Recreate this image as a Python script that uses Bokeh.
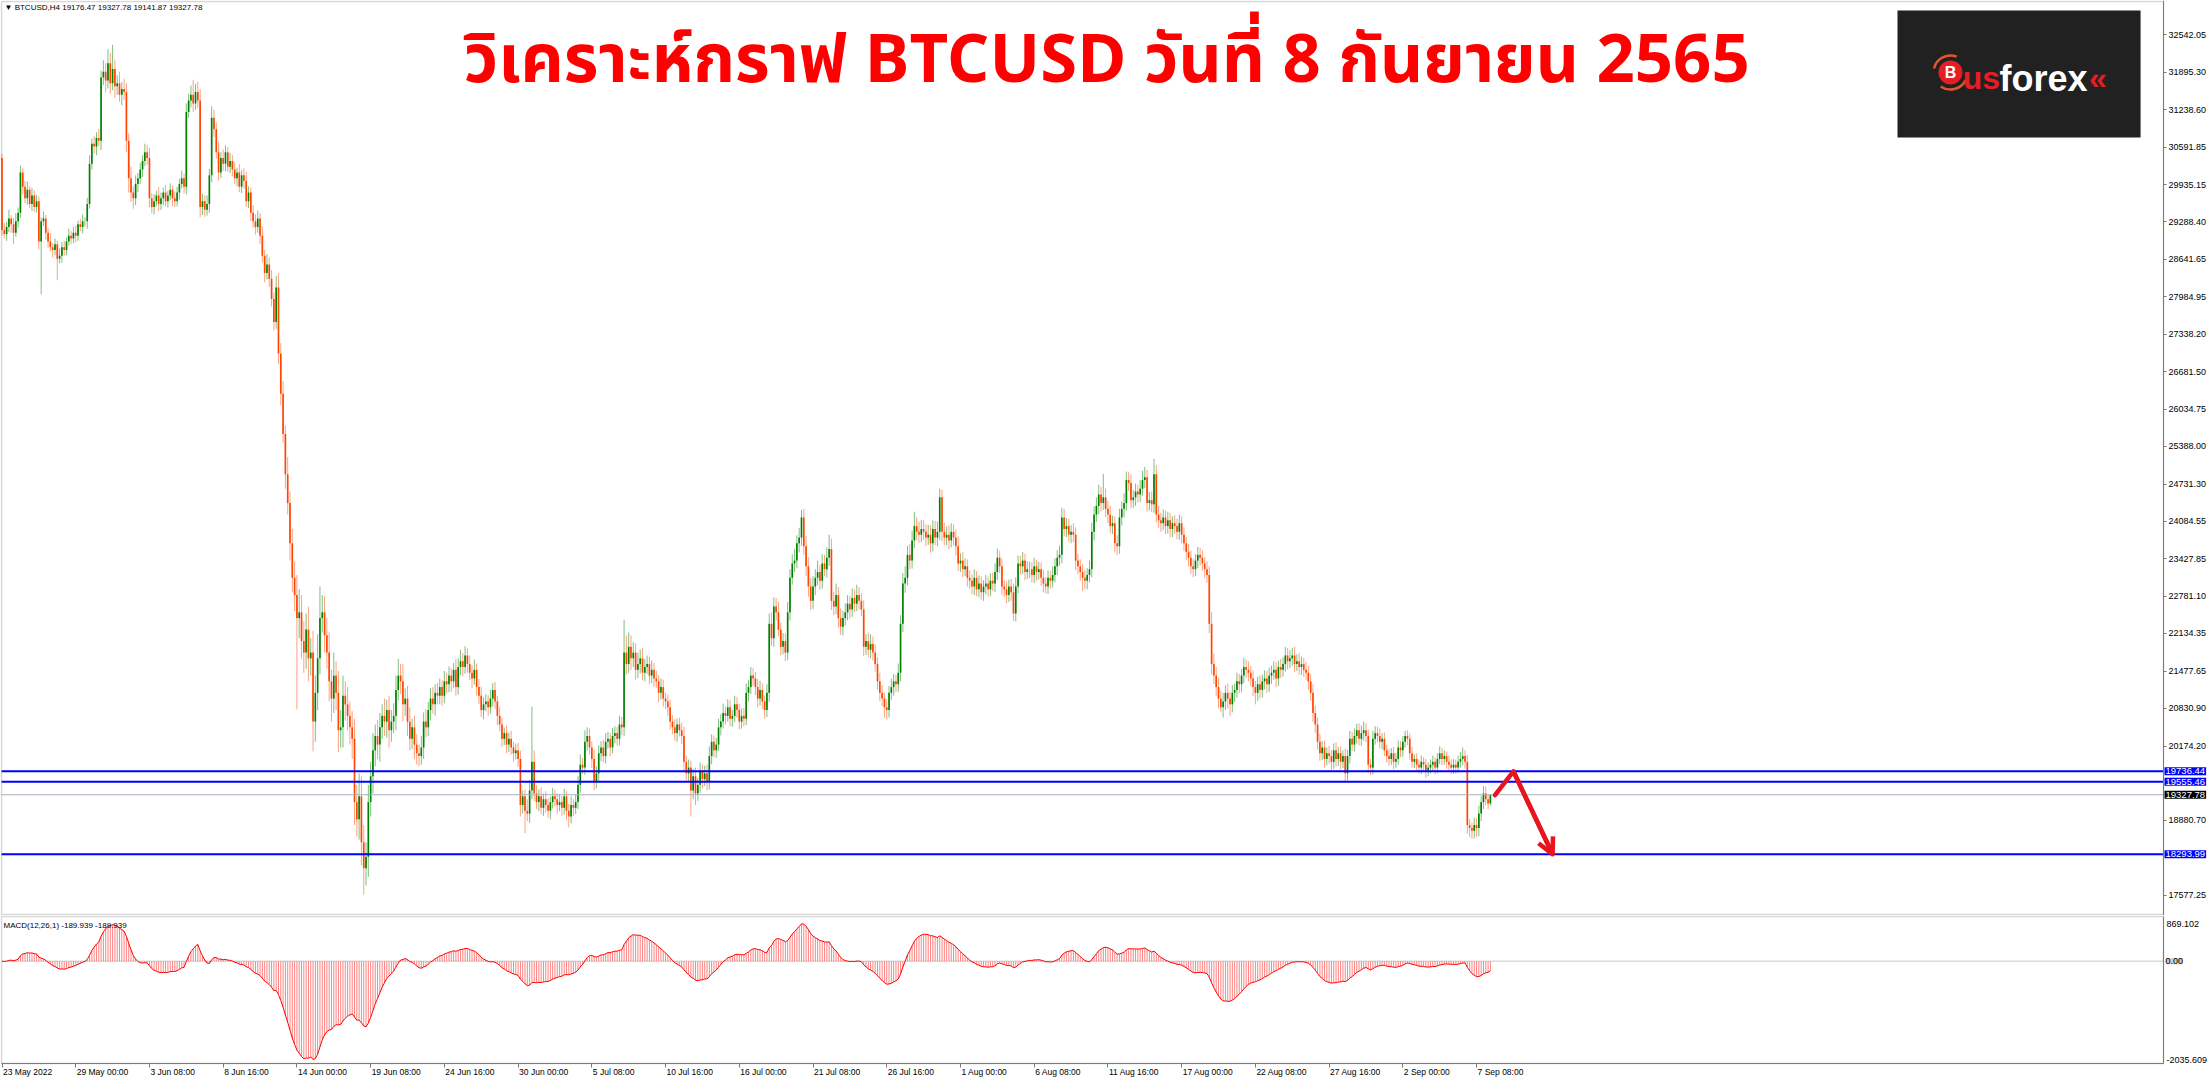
import numpy as np
import pandas as pd
from bokeh.plotting import figure
from bokeh.layouts import column
from bokeh.models import (Range1d, FixedTicker, Label, BoxAnnotation, Arrow, OpenHead,
                          ColumnDataSource, LinearAxis)
from bokeh.core.properties import value
from bokeh.embed import file_html
from bokeh.resources import INLINE

# ---------------- data (H4 bars, 23 May 2022 16:00 -> 8 Sep 2022 08:00) ----------------
first_open = 30400.0
closes = [
    29150, 29080, 29200, 29350, 29250, 29100, 29300, 29450, 30150, 29900,
    29700, 29850, 29600, 29750, 29550, 29650, 28950, 29300, 29350, 29100,
    28950, 28850, 28800, 28900, 28650, 28700, 28850, 28800, 28950, 29050,
    29000, 29100, 29050, 29250, 29200, 29300, 29300, 29600, 30300, 30650,
    30600, 30750, 30700, 31800, 31900, 31750, 32050, 31700, 31950, 31650,
    31700, 31500, 31600, 31550, 30700, 30050, 29800, 29700, 29950, 30050,
    30200, 30350, 30500, 30400, 29700, 29550, 29650, 29750, 29600, 29700,
    29800, 29650, 29750, 29850, 29700, 29650, 29800, 29950, 30050, 29900,
    31200, 31400, 31500, 31350, 31550, 31400, 29550, 29650, 29500, 29600,
    30100, 31100, 30900, 30500, 30150, 30400, 30300, 30500, 30250, 30350,
    30200, 30050, 30150, 29900, 30100, 30000, 29650, 29800, 29450, 29300,
    29200, 29350, 29050, 28700, 28400, 28550, 28300, 27950, 27550, 28150,
    27000, 26300, 25600, 24900, 24400, 23700, 23100, 22800, 22400, 22500,
    22000, 21800, 22200, 21700, 21800, 20600, 21100, 21700, 22400, 22500,
    22100, 21800, 21300, 21000, 21400, 21100, 20450, 20500, 21050, 20900,
    20700, 20500, 20300, 19200, 18900, 19300, 18500, 18050, 18250, 19200,
    19650, 20100, 20350, 20200, 20500, 20700, 20600, 20800, 20450, 20600,
    20700, 21150, 21400, 21300, 20900, 21000, 20600, 20300, 20500, 20200,
    20050, 20000, 20150, 20600, 20500, 20800, 21000, 20900, 21100, 21050,
    21200, 21050, 21300, 21250, 21400, 21300, 21500, 21200, 21550, 21650,
    21550, 21750, 21600, 21450, 21350, 21500, 21200, 21050, 20800, 20900,
    20950, 20850, 21000, 21150, 20950, 20700, 20550, 20300, 20400, 20200,
    20300, 20150, 20050, 20100, 19950, 19150, 19300, 19050, 19000, 19400,
    19900, 19350, 19200, 19300, 19100, 19250, 19150, 19050, 19200, 19300,
    19250, 19150, 19200, 19100, 19300, 19050, 18950, 19150, 19100, 19200,
    19500, 19850, 19800, 20250, 20350, 20150, 19950, 19550, 19700, 20050,
    20150, 20000, 20250, 20300, 20150, 20350, 20400, 20300, 20550, 20500,
    21800, 21600, 21900, 21700, 21800, 21500, 21600, 21700, 21450, 21550,
    21600, 21400, 21500, 21350, 21300, 21100, 21200, 21000, 20950, 20850,
    20600, 20500, 20400, 20550, 20450, 20350, 19900, 19700, 19800, 19400,
    19650, 19350, 19500, 19750, 19600, 19700, 19550, 20000, 20250, 20100,
    20200, 20500, 20600, 20750, 20700, 20850, 20650, 20700, 20900, 20800,
    20600, 20700, 20650, 21100, 21200, 21400, 21350, 21200, 21000, 21150,
    20950, 20800, 21100, 22300, 22050, 22600, 22500, 22200, 21900, 22000,
    21800, 22500, 23100, 23350, 23400, 23700, 23800, 24150, 23650, 23300,
    22950, 22700, 22950, 23100, 23200, 23050, 23350, 23250, 23450, 23600,
    22700, 22600, 22800, 22400, 22250, 22400, 22500, 22650, 22550, 22750,
    22650, 22800, 22700, 22550, 21900, 22000, 21850, 21950, 21800, 21600,
    21300, 21100, 21000, 20850, 20800, 21100, 21200, 21300, 21250, 21450,
    22300, 23000, 23100, 23500, 23400, 23750, 24000, 23900, 23850, 23950,
    23900, 23800, 23850, 23700, 23950, 23800, 23900, 24500, 23900, 23800,
    23850, 23750, 23900, 23800, 23650, 23350, 23400, 23250, 23300, 23100,
    23050, 22950, 23100, 22900, 23000, 22850, 22950, 23000, 22900, 23050,
    23000, 23200, 23450, 23300, 22950, 22900, 22800, 22950, 22850, 22480,
    22950, 23350, 23300, 23400, 23200, 23250, 23250, 23150, 23300, 23200,
    23250, 23100, 23000, 22950, 23100, 23050, 23150, 23300, 23450, 23500,
    24150, 23950, 24000, 23850, 23900, 23850, 23400, 23300, 23200, 23100,
    23050, 23150, 23250, 23900, 24200, 24350, 24550, 24400, 24500, 24300,
    24200, 24000, 24050, 23700, 23650, 24150, 24300, 24400, 24800, 24750,
    24450, 24500, 24600, 24550, 24650, 24800, 24850, 24400, 24450, 24380,
    24900, 24200, 24100, 24050, 24150, 24000, 24100, 23950, 24050, 24000,
    23900, 24050, 23850, 23700, 23550, 23450, 23300, 23250, 23400, 23500,
    23450, 23350, 23250, 23150, 22300, 21600, 21400, 21200, 21000, 20850,
    20950, 21100, 21000, 20900, 21100, 21150, 21300, 21250, 21400, 21550,
    21500, 21450, 21350, 21200, 21100, 21250, 21150, 21300, 21350, 21250,
    21400, 21450, 21500, 21350, 21550, 21500, 21600, 21750, 21650, 21700,
    21750, 21600, 21650, 21550, 21600, 21500, 21450, 21300, 21100, 20750,
    20550, 20250, 20050, 20150, 19950, 20050, 20000, 19900, 20100, 19950,
    20050, 19900, 20000, 19700, 20000, 20300, 20200, 20350, 20450, 20300,
    20400, 20450, 20350, 19850, 19800, 20300, 20400, 20350, 20250, 20300,
    20100, 20000, 19950, 20050, 19900, 19950, 20150, 20100, 20250, 20350,
    20300, 20050, 19900, 19950, 19850, 19800, 19900, 19850, 19750, 19800,
    19850, 19900, 19800, 19950, 20050, 19950, 20000, 19900, 19850, 19800,
    19850, 19800, 19900, 19950, 20000, 19900, 18800, 18750, 18700, 18800,
    18750, 19000, 19200, 19350, 19250, 19176.47, 19327.78,
]
upper_wicks = [
    80, 120, 90, 150, 60, 110, 140, 90, 120, 70,
    100, 140, 60, 130, 90, 110, 80, 70, 120, 60,
    90, 140, 70, 100, 60, 130, 90, 110, 70, 120,
    80, 100, 130, 60, 90, 120, 70, 110, 150, 90,
    130, 100, 160, 120, 200, 150, 250, 180, 420, 160,
    140, 200, 120, 180, 150, 130, 200, 110, 150, 90,
    120, 100, 150, 130, 180, 90, 120, 80, 140, 100,
    90, 130, 80, 110, 70, 120, 100, 90, 130, 80,
    150, 120, 160, 260, 140, 180, 200, 130, 100, 150,
    110, 200, 140, 120, 180, 100, 150, 120, 90, 140,
    100, 130, 80, 150, 90, 120, 160, 110, 90, 130,
    120, 140, 90, 160, 100, 180, 120, 150, 110, 200,
    250, 180, 220, 150, 300, 200, 250, 280, 350, 400,
    300, 350, 280, 400, 250, 380, 300, 420, 550, 300,
    280, 300, 350, 200, 400, 250, 380, 300, 350, 250,
    300, 250, 280, 350, 300, 400, 350, 300, 250, 300,
    250, 300, 200, 280, 250, 200, 300, 180, 250, 200,
    220, 250, 290, 200, 300, 180, 220, 250, 150, 200,
    180, 150, 200, 160, 220, 140, 180, 200, 150, 170,
    150, 120, 180, 140, 160, 130, 120, 180, 150, 200,
    140, 160, 120, 150, 130, 180, 110, 140, 160, 120,
    130, 110, 150, 120, 140, 100, 160, 120, 100, 130,
    110, 140, 100, 120, 130, 150, 100, 120, 200, 180,
    960, 200, 150, 120, 160, 100, 140, 120, 100, 150,
    120, 100, 140, 110, 130, 90, 120, 150, 100, 130,
    150, 180, 120, 200, 150, 130, 110, 160, 120, 140,
    110, 130, 150, 120, 100, 140, 120, 110, 150, 130,
    570, 300, 250, 200, 180, 160, 200, 150, 180, 140,
    150, 130, 160, 120, 140, 110, 150, 130, 100, 120,
    130, 110, 140, 100, 120, 130, 160, 110, 140, 120,
    130, 150, 120, 140, 100, 130, 150, 170, 130, 110,
    120, 150, 130, 160, 110, 140, 120, 100, 150, 130,
    110, 130, 140, 160, 120, 150, 130, 110, 140, 160,
    120, 100, 150, 180, 200, 160, 150, 180, 120, 140,
    130, 180, 150, 160, 200, 140, 170, 130, 150, 180,
    160, 140, 180, 150, 200, 130, 160, 150, 180, 250,
    180, 150, 200, 140, 170, 130, 160, 150, 140, 170,
    150, 180, 140, 130, 160, 120, 150, 170, 130, 140,
    120, 150, 130, 110, 140, 120, 150, 130, 110, 160,
    150, 180, 200, 160, 190, 170, 250, 150, 180, 160,
    150, 130, 170, 160, 150, 140, 180, 150, 130, 160,
    140, 160, 150, 130, 140, 170, 130, 150, 140, 120,
    130, 110, 150, 120, 140, 130, 110, 150, 120, 130,
    140, 150, 160, 120, 130, 110, 140, 120, 130, 150,
    160, 140, 130, 150, 120, 140, 130, 120, 150, 110,
    130, 120, 140, 110, 130, 120, 150, 140, 130, 160,
    170, 150, 140, 130, 120, 150, 130, 110, 120, 140,
    130, 120, 150, 160, 140, 150, 170, 130, 410, 150,
    140, 150, 130, 120, 140, 150, 130, 170, 150, 140,
    150, 130, 140, 120, 150, 160, 180, 130, 140, 150,
    270, 160, 150, 130, 140, 120, 150, 130, 120, 140,
    130, 150, 120, 130, 110, 140, 120, 130, 110, 140,
    120, 130, 110, 140, 150, 200, 180, 150, 160, 140,
    150, 130, 160, 120, 140, 110, 150, 130, 120, 160,
    130, 150, 120, 140, 110, 130, 150, 120, 140, 130,
    140, 120, 150, 130, 110, 140, 120, 150, 130, 140,
    130, 150, 120, 140, 130, 110, 140, 120, 130, 150,
    130, 120, 140, 110, 120, 100, 130, 110, 120, 140,
    110, 120, 100, 130, 110, 140, 120, 130, 110, 120,
    130, 150, 120, 110, 100, 140, 120, 110, 130, 100,
    110, 100, 120, 90, 110, 100, 120, 110, 100, 90,
    100, 90, 110, 80, 100, 90, 110, 80, 100, 90,
    90, 110, 80, 100, 120, 90, 100, 80, 110, 90,
    100, 90, 110, 120, 150, 100, 120, 110, 100, 130,
    120, 140, 110, 130, 120, 90, 0,
]
lower_wicks = [
    100, 80, 120, 90, 150, 200, 70, 110, 90, 130,
    80, 110, 70, 120, 90, 100, 140, 920, 80, 120,
    110, 70, 130, 90, 375, 80, 120, 100, 90, 70,
    100, 80, 120, 90, 70, 110, 90, 130, 80, 100,
    120, 150, 90, 160, 130, 200, 140, 180, 120, 200,
    150, 120, 180, 140, 200, 250, 160, 180, 120, 140,
    100, 130, 90, 120, 150, 110, 130, 90, 120, 100,
    120, 90, 110, 80, 130, 100, 90, 120, 80, 110,
    130, 100, 120, 150, 110, 130, 180, 140, 120, 100,
    150, 120, 130, 110, 140, 100, 120, 130, 90, 110,
    120, 100, 140, 90, 110, 130, 100, 120, 140, 110,
    130, 100, 150, 120, 160, 110, 140, 130, 150, 120,
    180, 200, 150, 250, 200, 300, 250, 280, 1590, 350,
    300, 350, 280, 400, 300, 520, 350, 300, 280, 250,
    300, 280, 350, 400, 250, 300, 380, 300, 350, 280,
    250, 300, 350, 400, 300, 350, 400, 460, 300, 350,
    250, 300, 280, 250, 300, 200, 250, 280, 300, 200,
    200, 250, 180, 220, 300, 200, 250, 200, 180, 250,
    200, 180, 150, 200, 170, 150, 180, 160, 200, 150,
    150, 170, 130, 160, 140, 180, 120, 150, 130, 140,
    160, 120, 150, 130, 170, 110, 150, 140, 120, 160,
    120, 150, 110, 140, 130, 160, 120, 140, 110, 150,
    130, 120, 150, 110, 140, 200, 150, 390, 130, 160,
    150, 130, 120, 160, 110, 140, 130, 120, 150, 110,
    130, 150, 110, 140, 120, 160, 190, 120, 140, 110,
    120, 140, 110, 130, 150, 120, 160, 140, 110, 130,
    140, 110, 130, 120, 150, 100, 130, 120, 110, 140,
    150, 180, 160, 200, 150, 170, 140, 160, 130, 150,
    120, 150, 130, 140, 110, 160, 120, 140, 130, 150,
    140, 120, 130, 150, 110, 140, 160, 130, 150, 450,
    150, 200, 130, 140, 160, 120, 150, 130, 140, 120,
    130, 110, 140, 120, 150, 100, 130, 140, 110, 130,
    140, 120, 130, 110, 150, 120, 130, 140, 150, 120,
    130, 150, 120, 160, 130, 150, 140, 120, 150, 130,
    150, 130, 140, 120, 150, 130, 160, 140, 150, 170,
    180, 160, 140, 150, 130, 160, 140, 120, 150, 140,
    160, 150, 130, 170, 140, 150, 130, 140, 160, 130,
    140, 130, 150, 120, 160, 140, 130, 150, 140, 130,
    150, 140, 130, 180, 160, 130, 120, 150, 140, 130,
    150, 140, 160, 130, 150, 140, 130, 150, 140, 130,
    140, 150, 130, 160, 140, 130, 150, 140, 160, 130,
    130, 150, 120, 140, 160, 130, 150, 140, 120, 150,
    140, 130, 150, 120, 140, 130, 150, 140, 130, 120,
    130, 150, 140, 120, 150, 130, 140, 120, 150, 130,
    140, 120, 150, 130, 140, 120, 150, 130, 140, 150,
    130, 140, 150, 120, 130, 140, 120, 130, 150, 140,
    150, 130, 140, 120, 150, 130, 160, 140, 150, 230,
    140, 150, 130, 140, 150, 130, 140, 150, 120, 140,
    150, 130, 140, 160, 150, 130, 140, 150, 130, 140,
    140, 130, 150, 140, 130, 120, 140, 150, 130, 140,
    150, 140, 130, 150, 120, 140, 130, 150, 140, 130,
    130, 140, 150, 130, 140, 150, 130, 140, 120, 130,
    140, 130, 150, 140, 160, 180, 150, 160, 170, 80,
    180, 150, 170, 200, 140, 160, 130, 150, 140, 130,
    140, 150, 130, 160, 200, 140, 150, 130, 140, 150,
    130, 140, 120, 150, 130, 140, 120, 130, 140, 120,
    130, 140, 120, 130, 140, 120, 130, 150, 140, 160,
    150, 140, 130, 120, 150, 110, 130, 140, 120, 130,
    120, 130, 110, 150, 120, 130, 110, 120, 130, 110,
    120, 130, 110, 140, 130, 120, 100, 110, 120, 130,
    100, 110, 120, 100, 130, 110, 100, 120, 110, 100,
    110, 120, 100, 110, 120, 100, 110, 120, 130, 100,
    100, 110, 120, 100, 90, 110, 100, 120, 100, 110,
    110, 100, 90, 100, 110, 120, 150, 160, 140, 130,
    150, 140, 130, 120, 110, 100, 34.61,
]
x_labels = ["23 May 2022", "29 May 00:00", "3 Jun 08:00", "8 Jun 16:00", "14 Jun 00:00",
            "19 Jun 08:00", "24 Jun 16:00", "30 Jun 00:00", "5 Jul 08:00", "10 Jul 16:00",
            "16 Jul 00:00", "21 Jul 08:00", "26 Jul 16:00", "1 Aug 00:00", "6 Aug 08:00",
            "11 Aug 16:00", "17 Aug 00:00", "22 Aug 08:00", "27 Aug 16:00", "2 Sep 00:00",
            "7 Sep 08:00"]
bars_per_label = 32
price_ticks = [32542.05, 31895.30, 31238.60, 30591.85, 29935.15, 29288.40, 28641.65,
               27984.95, 27338.20, 26681.50, 26034.75, 25388.00, 24731.30, 24084.55,
               23427.85, 22781.10, 22134.35, 21477.65, 20830.90, 20174.20, 18880.70,
               17577.25]
levels = [19736.44, 19555.46, 18293.99]
bid = 19327.78
arrow_bars = [648, 656, 673]
arrow_prices = [19320, 19736.44, 18293.99]
header = "BTCUSD,H4  19176.47 19327.78 19141.87 19327.78"
macd_header = "MACD(12,26,1) -189.939 -189.939"
macd_max, macd_min = 869.102, -2035.609
title = "วิเคราะห์กราฟ BTCUSD วันที่ 8 กันยายน 2565"

# ---------------- geometry / styling ----------------
GREEN = "#008000"
RED = "#FF4500"
BORDER = "#7a7a7a"
AXIS_FONT = "Liberation Sans"
W = 2209
MAIN_H, MACD_H = 915, 165
PX_PER_BAR = 2.304
X0 = -1.5 / PX_PER_BAR                          # frame left edge (bar units)
XEND = X0 + W / PX_PER_BAR                      # frame right edge
XA = (2163 - 1.5) / PX_PER_BAR                  # price axis position
XL = (1 - 1.5) / PX_PER_BAR                     # left border line
P_PER_PX = 17.39
PTOP = 33140.0
PBOT = PTOP - MAIN_H * P_PER_PX
M_PER_PX = (macd_max - macd_min) / 146.0        # indicator window 917..1063 px
M_TOP = macd_max + 2 * M_PER_PX
M_LOW = macd_min - 17 * M_PER_PX

n = min(len(closes), len(upper_wicks), len(lower_wicks))
close = np.array(closes[:n], dtype=float)
open_ = np.concatenate([[first_open], close[:-1]])
high = np.maximum(open_, close) + np.array(upper_wicks[:n], dtype=float)
low = np.minimum(open_, close) - np.array(lower_wicks[:n], dtype=float)
idx = np.arange(n)
bull = close >= open_
src = ColumnDataSource(dict(
    x=idx, h=high, l=low,
    top=np.maximum(open_, close), bot=np.minimum(open_, close),
    col=np.where(bull, GREEN, RED)))

s = pd.Series(close)
macd = (s.ewm(span=12, adjust=False).mean() - s.ewm(span=26, adjust=False).mean()).to_numpy()

# ---------------- main price panel ----------------
main = figure(width=W, height=MAIN_H, x_range=Range1d(X0, XEND), y_range=Range1d(PBOT, PTOP),
              output_backend="svg", toolbar_location=None, x_axis_location=None,
              y_axis_location=None, min_border_left=0, min_border_right=0,
              min_border_top=0, min_border_bottom=0)
main.outline_line_color = None
main.xgrid.visible = False
main.ygrid.visible = False

ya = LinearAxis(fixed_location=XA, bounds=(PBOT, PTOP))
ya.ticker = FixedTicker(ticks=price_ticks)
ya.major_label_overrides = {t: f"{t:.2f}" for t in price_ticks}
ya.major_label_text_font = AXIS_FONT
ya.major_label_text_font_size = "9px"
ya.major_label_text_color = "black"
ya.major_tick_out = 3
ya.major_tick_in = 0
ya.minor_tick_out = 0
ya.minor_tick_in = 0
ya.major_label_standoff = 2
ya.axis_line_color = BORDER
ya.major_tick_line_color = BORDER
main.add_layout(ya, "right")

main.add_layout(BoxAnnotation(left=XL, right=XA, bottom=PTOP - 914 * P_PER_PX,
                              top=PTOP - 1 * P_PER_PX, fill_alpha=0,
                              line_color=BORDER, line_width=1.5))

main.segment(x0="x", y0="l", x1="x", y1="h", source=src, line_color="col",
             line_alpha=0.5, line_width=1)
main.vbar(x="x", top="top", bottom="bot", width=0.72, source=src,
          fill_color="col", line_color=None)

main.segment(x0=[XL] * len(levels), x1=[XA] * len(levels), y0=levels, y1=levels,
             line_color="#0000FF", line_width=2)
main.segment(x0=[XL], x1=[XA], y0=[bid], y1=[bid], line_color="#A7B0BC", line_width=1)

for lv in levels:
    main.add_layout(Label(x=XA, y=lv, x_offset=1, text=f"{lv:.2f}", text_align="left",
                          text_baseline="middle", text_color="white",
                          text_font=AXIS_FONT, text_font_size="9.5px",
                          background_fill_color="#0000FF", padding=1))
main.add_layout(Label(x=XA, y=bid, x_offset=1, text=f"{bid:.2f}", text_align="left",
                      text_baseline="middle", text_color="white",
                      text_font=AXIS_FONT, text_font_size="9.5px",
                      background_fill_color="black", padding=1))

# analyst arrow
main.line(arrow_bars, arrow_prices, line_color="#E8141E", line_width=4.5, line_cap="round",
          line_join="round")
main.add_layout(Arrow(x_start=arrow_bars[-2], y_start=arrow_prices[-2],
                      x_end=arrow_bars[-1], y_end=arrow_prices[-1],
                      line_color="#E8141E", line_width=4.5,
                      end=OpenHead(line_color="#E8141E", line_width=4.5, size=16)))

# header and title
main.add_layout(Label(x=X0, y=PTOP, x_offset=4, y_offset=-2, text="▼ " + header,
                      text_align="left", text_baseline="top", text_color="black",
                      text_font=AXIS_FONT, text_font_size="8px"))
main.add_layout(Label(x=479.5, y=32085, text=title, text_align="center",
                      text_baseline="alphabetic", text_color="#FF0000",
                      text_font="Noto Sans Thai", text_font_style="bold",
                      text_font_size="67px"))

# logo (image overlay in the original)
main.quad(left=[822.7], right=[928.2], top=[32966], bottom=[30758],
          fill_color="#212121", line_color=None)
main.arc(x=[845.7, 845.7], y=[31888, 31888], radius=17, radius_units="screen",
         start_angle=[1.2, 4.1], end_angle=[2.9, 5.8], line_color="#E2562A", line_width=2.5)
main.scatter([845.7], [31888], size=24, marker="circle", fill_color="#E31E24",
             line_color=None)
main.text([845.7], [31888], text=["B"], text_align="center", text_baseline="middle",
          text_color="white", text_font=value("Liberation Sans"), text_font_style="bold",
          text_font_size="16px")
main.text([851.0], [31790], text=["us"], text_align="left", text_baseline="alphabetic",
          text_color="#E31E24", text_font=value("Liberation Sans"), text_font_style="bold",
          text_font_size="32px")
main.text([867.0], [31790], text=["forex"], text_align="left", text_baseline="alphabetic",
          text_color="white", text_font=value("Liberation Sans"), text_font_style="bold",
          text_font_size="36px")
main.text([905.8], [31790], text=["«"], text_align="left", text_baseline="alphabetic",
          text_color="#E31E24", text_font=value("Liberation Sans"), text_font_style="bold",
          text_font_size="32px")

# ---------------- MACD panel ----------------
mf = figure(width=W, height=MACD_H, x_range=main.x_range, y_range=Range1d(M_LOW, M_TOP),
            output_backend="svg", toolbar_location=None, x_axis_location=None,
            y_axis_location=None, min_border_left=0, min_border_right=0,
            min_border_top=0, min_border_bottom=0)
mf.outline_line_color = None
mf.xgrid.visible = False
mf.ygrid.visible = False

mf.add_layout(BoxAnnotation(left=XL, right=XA, bottom=macd_min, top=macd_max + M_PER_PX,
                            fill_alpha=0, line_color=BORDER, line_width=1.5))
mf.segment(x0=[XL], x1=[XA], y0=[0], y1=[0], line_color="#C8C8C8", line_width=1)
mf.vbar(x=idx, top=macd, bottom=0, width=0.42, fill_color="#FF6A6A", fill_alpha=0.85,
        line_color=None)
mf.line(idx, macd, line_color="#FF0000", line_width=1)

my = LinearAxis(fixed_location=XA, bounds=(macd_min, macd_max + M_PER_PX))
macd_tick_pos = [macd_max - 6 * M_PER_PX, macd_min + 4 * M_PER_PX]
my.ticker = FixedTicker(ticks=macd_tick_pos)
my.major_label_overrides = {macd_tick_pos[0]: f"{macd_max:.3f}",
                            macd_tick_pos[1]: f"{macd_min:.3f}"}
my.major_label_text_font = AXIS_FONT
my.major_label_text_font_size = "9px"
my.major_label_text_color = "black"
my.major_tick_out = 0
my.major_tick_in = 0
my.minor_tick_out = 0
my.minor_tick_in = 0
my.major_label_standoff = 3
my.axis_line_color = BORDER
mf.add_layout(my, "right")
mf.add_layout(Label(x=XA, y=0, x_offset=2, text="0.00", text_align="left",
                    text_baseline="middle", text_color="black", text_font=AXIS_FONT,
                    text_font_size="9px", background_fill_color="#CFCFCF", padding=0))
mf.add_layout(Label(x=X0, y=M_TOP, x_offset=3, y_offset=-5, text=macd_header,
                    text_align="left", text_baseline="top", text_color="black",
                    text_font=AXIS_FONT, text_font_size="8px"))

xa = LinearAxis(fixed_location=macd_min, bounds=(XL, XA))
x_ticks = [i * bars_per_label for i in range(len(x_labels))]
xa.ticker = FixedTicker(ticks=x_ticks)
xa.major_label_overrides = {t: "" for t in x_ticks}
xa.major_tick_out = 4
xa.major_tick_in = 0
xa.minor_tick_out = 0
xa.minor_tick_in = 0
xa.axis_line_color = BORDER
xa.major_tick_line_color = BORDER
xa.major_label_text_font_size = "1px"
mf.add_layout(xa, "below")
for t, lab in zip(x_ticks, x_labels):
    mf.add_layout(Label(x=t, y=macd_min, x_offset=1, y_offset=-3, text=lab, text_align="left",
                        text_baseline="top", text_color="black", text_font=AXIS_FONT,
                        text_font_size="8.5px"))

layout = column(main, mf, spacing=0)
open("out.html", "w").write(file_html(layout, INLINE))
